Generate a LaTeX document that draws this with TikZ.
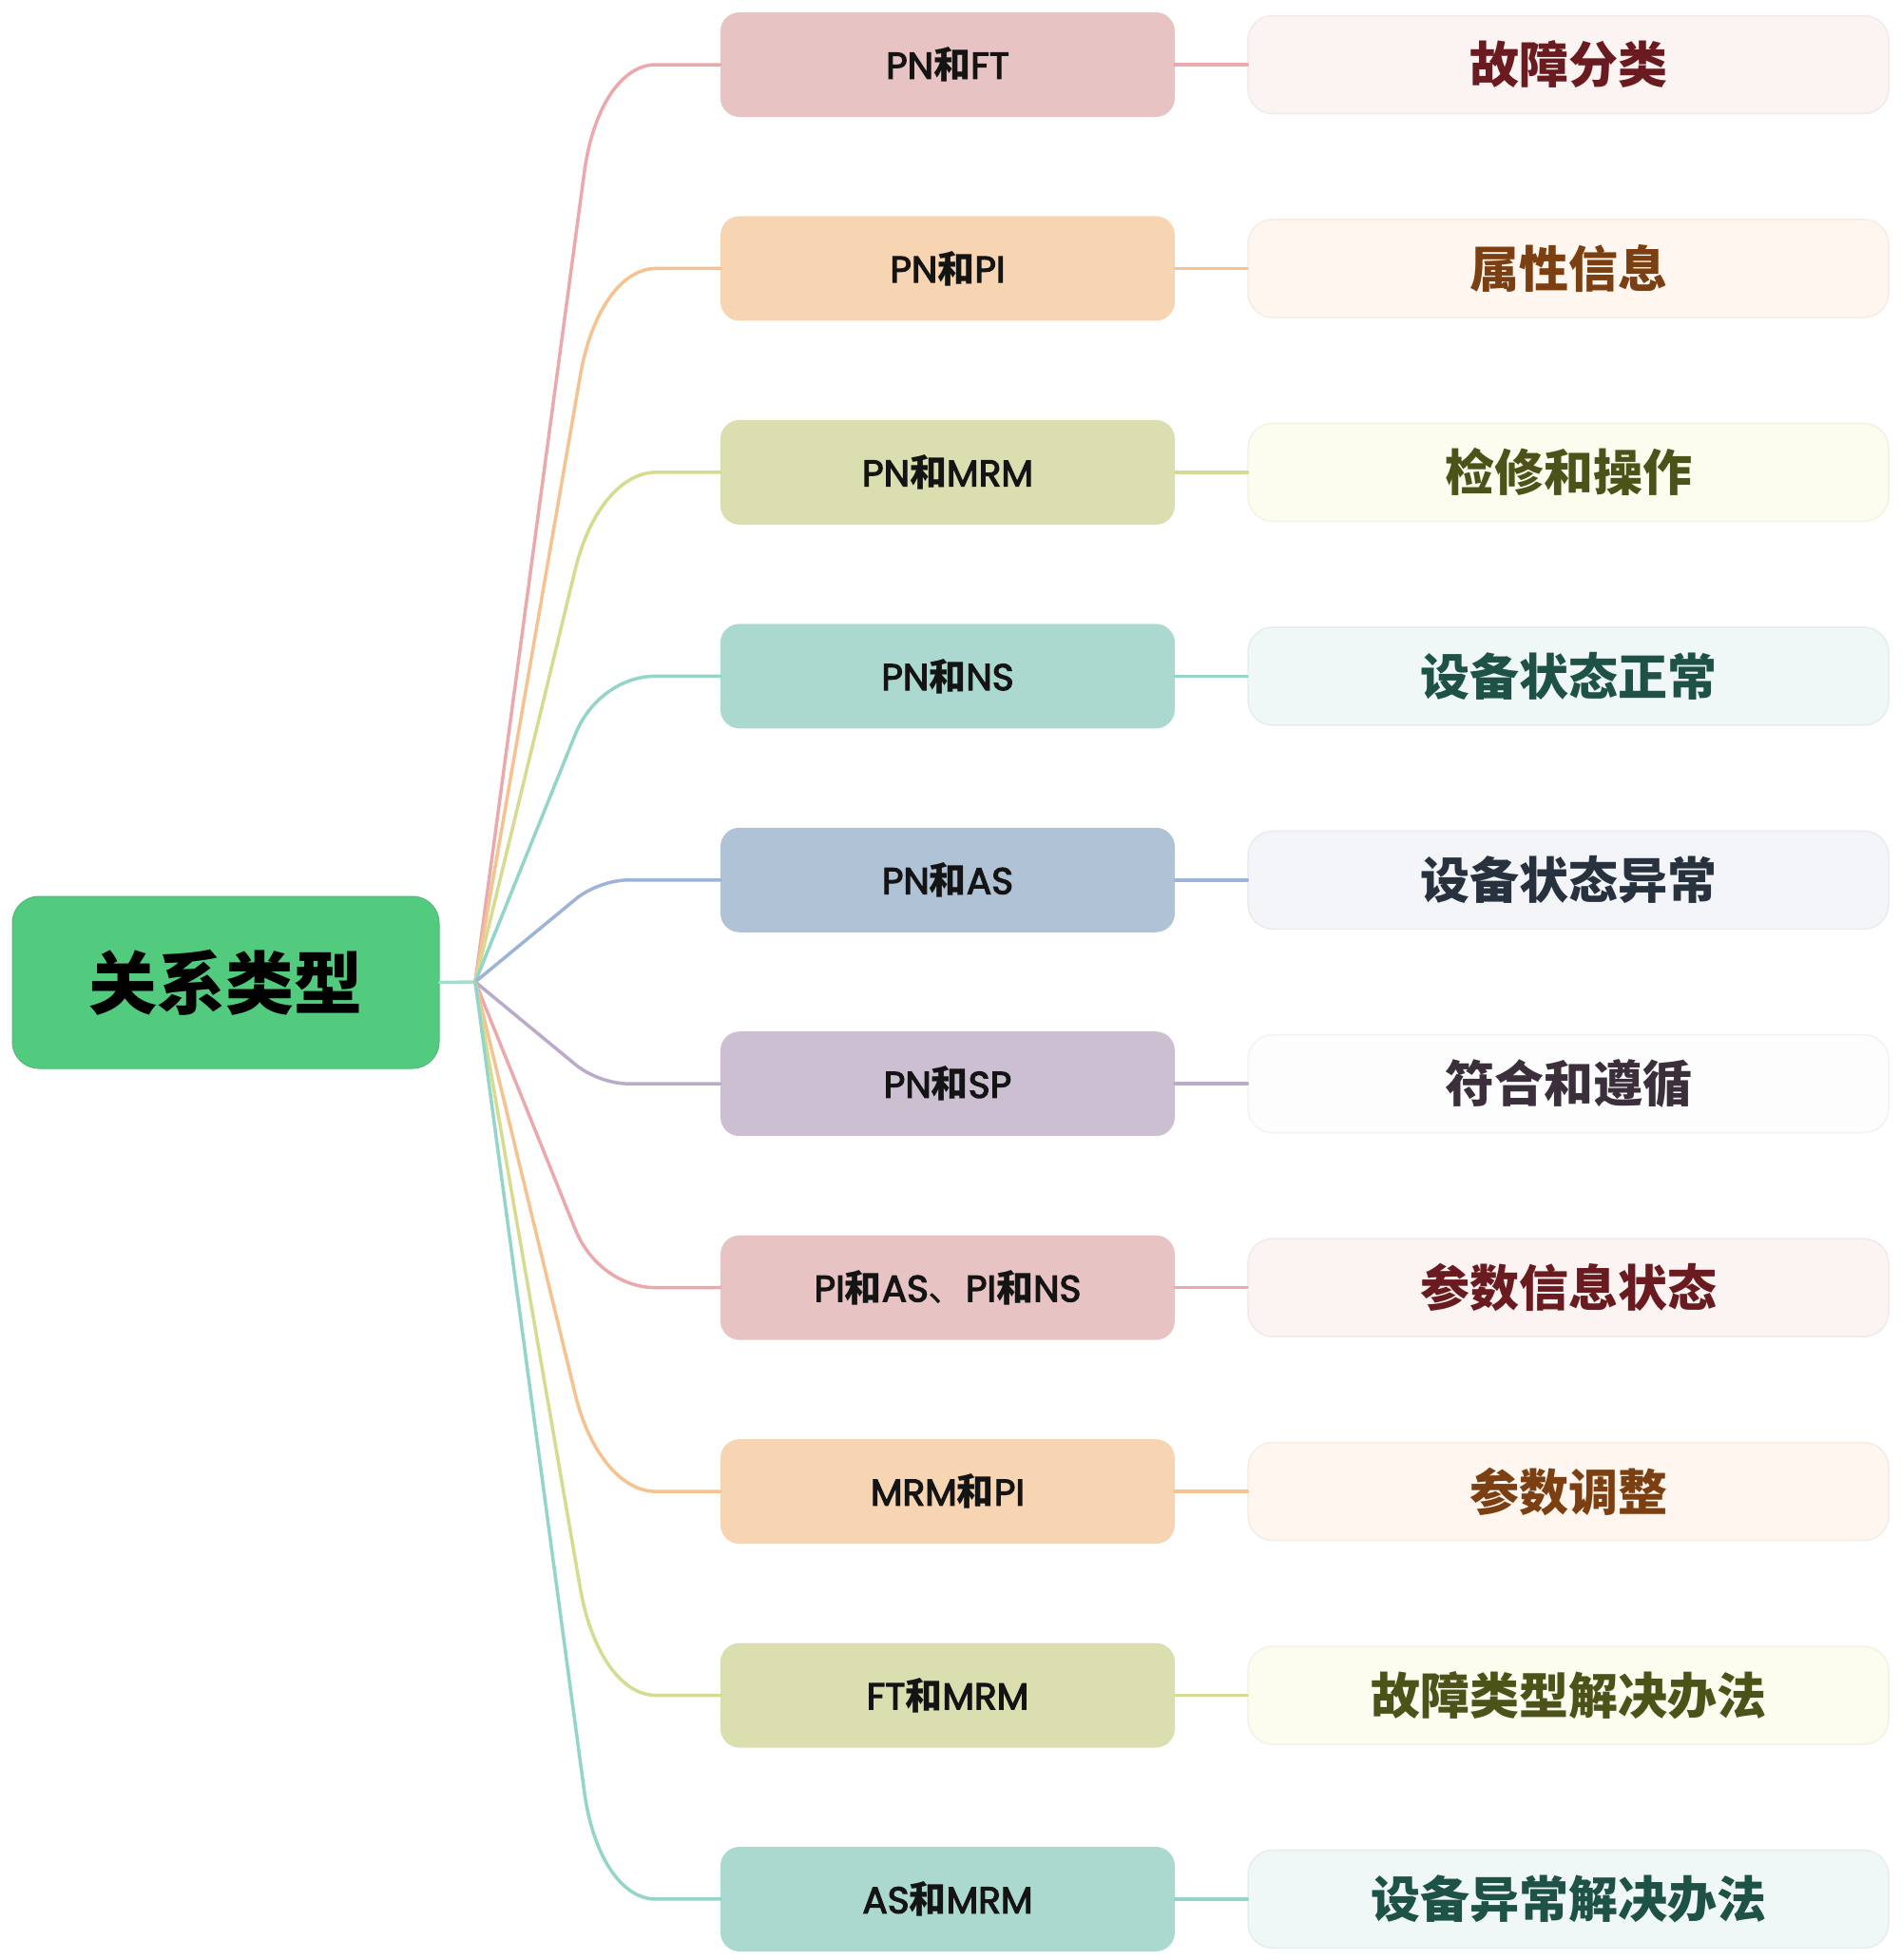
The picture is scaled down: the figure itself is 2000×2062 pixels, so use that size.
\documentclass[tikz,border=0pt]{standalone}
\usepackage{fontspec}
\setmainfont{Noto Sans CJK SC}
\newfontfamily\lt{Poppins}[FakeBold=3]
\newfontfamily\cj{Noto Sans CJK SC}
\usetikzlibrary{calc}
\definecolor{rootfill}{HTML}{52CB7E}
\definecolor{stub}{HTML}{A6DCCF}
% pink
\definecolor{fpk}{HTML}{E8C3C3}\definecolor{lpk}{HTML}{EBA9AE}\definecolor{rpk}{HTML}{FCF3F3}\definecolor{tpk}{HTML}{6A1B1F}
% orange
\definecolor{for}{HTML}{F7D5B2}\definecolor{lor}{HTML}{F6C290}\definecolor{ror}{HTML}{FEF6EF}\definecolor{tor}{HTML}{7B3F12}
% green
\definecolor{fgr}{HTML}{DBDFB0}\definecolor{lgr}{HTML}{D5DC90}\definecolor{rgr}{HTML}{FCFCEF}\definecolor{tgr}{HTML}{4D5219}
% teal
\definecolor{fte}{HTML}{ABD9CF}\definecolor{lte}{HTML}{93D5C8}\definecolor{rte}{HTML}{EFF8F7}\definecolor{tte}{HTML}{1F5247}
% blue
\definecolor{fbl}{HTML}{B0C2D6}\definecolor{lbl}{HTML}{9DB4D8}\definecolor{rbl}{HTML}{F3F5F8}\definecolor{tbl}{HTML}{28323F}
% purple
\definecolor{fpu}{HTML}{CDBFD2}\definecolor{lpu}{HTML}{BBAACA}\definecolor{rpu}{HTML}{FDFDFD}\definecolor{tpu}{HTML}{3A2F3A}
\newcommand{\he}{{\cj\bfseries 和}}
\newcommand{\dun}{{\cj 、}}
\tikzset{
  rootbox/.style={fill=rootfill, draw=rootfill!92!black, line width=1pt, rounded corners=28pt, minimum width=449pt, minimum height=181pt, inner sep=0pt, font=\fontsize{72}{76}\selectfont\bfseries, text=black},
  childbox/.style={rounded corners=20pt, minimum width=478pt, minimum height=110pt, inner sep=0pt, font=\fontsize{39}{42}\selectfont\lt, text=black!92},
  resbox/.style={rounded corners=26pt, minimum width=674pt, minimum height=103pt, inner sep=0pt, line width=1.5pt, font=\fontsize{52}{56}\selectfont\bfseries},
  branch/.style={line width=3.5pt, line cap=round}
}
\begin{document}
\begin{tikzpicture}[x=1pt,y=-1pt]
\useasboundingbox[fill=white] (0,0) rectangle (2000,2062);
\node[rootbox] (root) at (237.5,1033.5) {关系类型};
\coordinate (br) at (500,1033);
\draw[branch, draw=stub] (root.east) -- (br);
\foreach \i/\lab/\res/\c in {
  1/{PN\he FT}/{故障分类}/pk,
  2/{PN\he PI}/{属性信息}/or,
  3/{PN\he MRM}/{检修和操作}/gr,
  4/{PN\he NS}/{设备状态正常}/te,
  5/{PN\he AS}/{设备状态异常}/bl,
  6/{PN\he SP}/{符合和遵循}/pu,
  7/{PI\he AS\dun PI\he NS}/{参数信息状态}/pk,
  8/{MRM\he PI}/{参数调整}/or,
  9/{FT\he MRM}/{故障类型解决办法}/gr,
  10/{AS\he MRM}/{设备异常解决办法}/te}{
  \pgfmathsetmacro\yc{68+214.44*(\i-1)}
  \pgfmathsetmacro\L{veclen(130,\yc-1033)}
  \pgfmathsetmacro\rh{min(60,0.19*\L)}
  \pgfmathsetmacro\fr{min(0.19,60/\L*1.9)}
  \node[childbox, fill=f\c] (c\i) at (997,\yc) {\lab};
  \node[resbox, fill=r\c, draw=r\c!96!black, text=t\c] (r\i) at (1650,\yc) {\res};
  \coordinate (k\i) at (630,\yc);
  \coordinate (a\i) at ($(k\i)!\fr!(br)$);
  \coordinate (h\i) at ($(k\i)+(\rh,0)$);
  \draw[branch, draw=l\c] (br) -- (a\i) .. controls ($(a\i)!0.6!(k\i)$) and ($(h\i)!0.6!(k\i)$) .. (h\i) -- (c\i.west);
  \draw[branch, draw=l\c] (c\i.east) -- (r\i.west);
}
\end{tikzpicture}
\end{document}
